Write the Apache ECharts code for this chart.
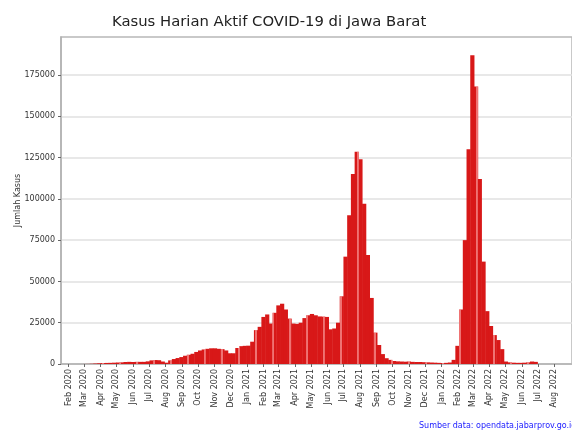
<!DOCTYPE html>
<html>
<head>
<meta charset="utf-8">
<script src="https://cdn.jsdelivr.net/npm/echarts@6/dist/echarts.min.js"></script>
<style>html,body{margin:0;padding:0;background:#fff}#c{width:572px;height:432px}</style>
</head>
<body>
<div id="c"></div>
<script>
// ---- data (weekly active cases) ----
const titleText = 'Kasus Harian Aktif COVID-19 di Jawa Barat';
const yName = 'Jumlah Kasus';
const sourceText = 'Sumber data: opendata.jabarprov.go.id';
const firstWeek = '2020-03-02';
const weeklyActive = [
  20, 50, 150, 300, 450, 550, 650, 700, 800, 900,
  1000, 1200, 1300, 1200, 1300, 1300, 1300, 1600, 2200, 2400,
  2300, 1500, 800, 2200, 3000, 3600, 4200, 5000, 5600, 6200,
  7300, 8200, 8800, 9200, 9500, 9500, 9200, 9000, 8200, 6500,
  6500, 9700, 10800, 11000, 11100, 13500, 20500, 22500, 28500, 30000,
  24500, 31000, 35500, 36500, 33000, 27500, 24500, 24300, 25000, 27800,
  29500, 30300, 29500, 28800, 28700, 28500, 21000, 21500, 25000, 41000,
  65000, 90000, 115000, 128500, 124000, 97000, 66000, 40000, 19000, 11500,
  6000, 3500, 2500, 1800, 1600, 1500, 1400, 1500, 1300, 1200,
  1200, 1100, 1000, 900, 800, 700, 600, 700, 900, 2500,
  11000, 33000, 75000, 130000, 187000, 168000, 112000, 62000, 32000, 23000,
  17500, 14500, 9000, 1500, 1000, 800, 700, 700, 800, 1000,
  1500, 1300
];
const monthTicks = [
  '2020-02-01','2020-03-01','2020-04-01','2020-05-01','2020-06-01','2020-07-01',
  '2020-08-01','2020-09-01','2020-10-01','2020-11-01','2020-12-01','2021-01-01',
  '2021-02-01','2021-03-01','2021-04-01','2021-05-01','2021-06-01','2021-07-01',
  '2021-08-01','2021-09-01','2021-10-01','2021-11-01','2021-12-01','2022-01-01',
  '2022-02-01','2022-03-01','2022-04-01','2022-05-01','2022-06-01','2022-07-01',
  '2022-08-01'
];
const yTicks = [0, 25000, 50000, 75000, 100000, 125000, 150000, 175000];
const monthNames = ['Jan','Feb','Mar','Apr','May','Jun','Jul','Aug','Sep','Oct','Nov','Dec'];

// ---- build ----
const DAY = 86400000;
const toUTC = s => { const p = s.split('-'); return Date.UTC(+p[0], +p[1] - 1, +p[2]); };
const t0 = toUTC(firstWeek);
const seriesData = weeklyActive.map((v, i) => [t0 + i * 7 * DAY, v]);
const tickTimes = monthTicks.map(toUTC);

const chart = echarts.init(document.getElementById('c'), null, {renderer: 'canvas'});
chart.setOption({
  animation: false,
  textStyle: {fontFamily: 'DejaVu Sans'},
  title: {
    text: titleText, left: 107, top: 10,
    textStyle: {fontSize: 14.8, fontWeight: 'normal', color: '#222', fontFamily: 'DejaVu Sans'}
  },
  graphic: [{
    type: 'text', left: 419, top: 422,
    style: {text: sourceText, fill: '#1a1aff', fontSize: 8, fontFamily: 'DejaVu Sans'}
  }],
  grid: {
    left: 61, top: 37, right: -20, bottom: 68,
    show: true, borderColor: '#b8b8b8', borderWidth: 1.5, backgroundColor: '#fff'
  },
  xAxis: {
    type: 'value',
    min: toUTC('2020-01-18'),
    max: toUTC('2022-09-03'),
    axisLine: {show: true, onZero: false, lineStyle: {color: '#b0b0b0', width: 1.5}},
    axisTick: {show: true, customValues: tickTimes, length: 3, lineStyle: {color: '#666'}},
    splitLine: {show: false},
    axisLabel: {
      customValues: tickTimes, rotate: 90, fontSize: 8, color: '#333', margin: 5,
      formatter: (val) => { const d = new Date(val); return monthNames[d.getUTCMonth()] + ' ' + d.getUTCFullYear(); }
    }
  },
  yAxis: {
    type: 'value', min: 0, max: 198000,
    name: yName, nameLocation: 'middle', nameGap: 39, nameMoveOverlap: false,
    nameTextStyle: {fontSize: 8, color: '#333'},
    axisLine: {show: true, lineStyle: {color: '#b0b0b0', width: 1.5}},
    axisTick: {show: true, customValues: yTicks, length: 3, lineStyle: {color: '#666'}},
    splitLine: {show: true, lineStyle: {color: '#e0e0e0', width: 1.5}},
    axisLabel: {customValues: yTicks, fontSize: 8, color: '#333', margin: 6, formatter: v => String(v)}
  },
  series: [{
    type: 'bar', data: seriesData, barWidth: 4.2,
    itemStyle: {
      color: '#d81818',
      decal: {symbol: 'rect', symbolSize: 1, color: 'rgba(255,175,175,0.6)', dashArrayX: [[2, 15]], dashArrayY: [1, 0]}
    }
  }]
});
</script>
</body>
</html>
